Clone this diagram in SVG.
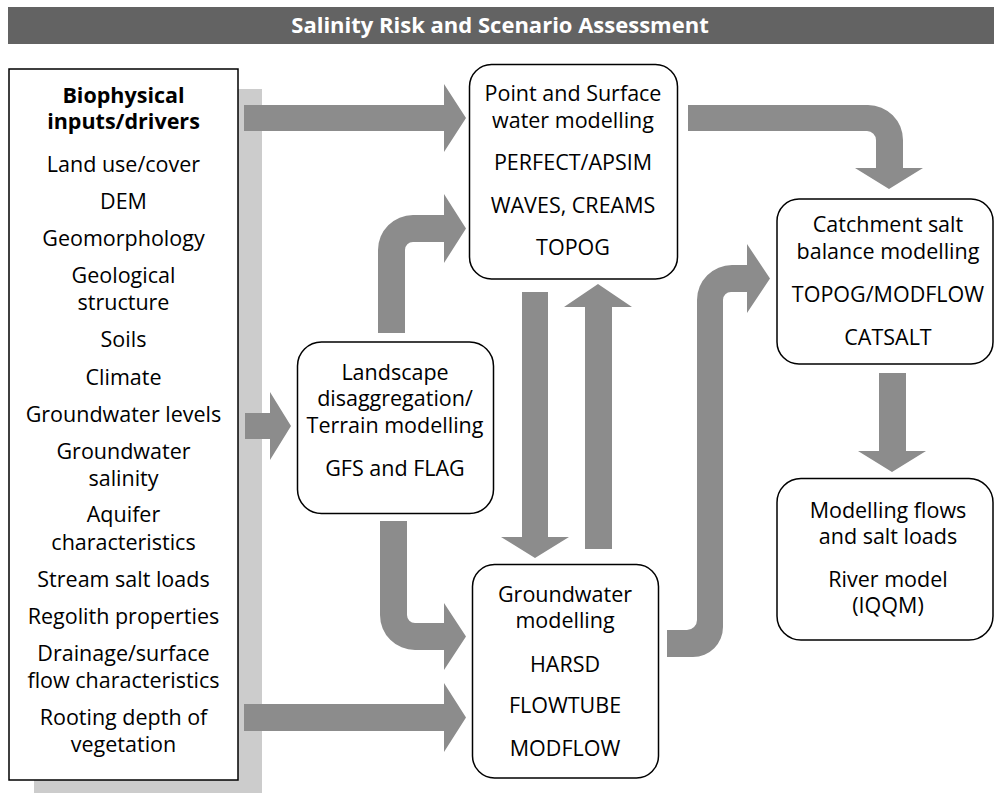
<svg xmlns="http://www.w3.org/2000/svg" width="994" height="793" viewBox="0 0 994 793">
<style>
.t{font-family:"Open Sans","Noto Sans","DejaVu Sans",sans-serif;font-size:21.5px;fill:#000;text-anchor:middle}
.b{font-weight:bold}
.box{fill:#fff;stroke:#000;stroke-width:1.5}
.arr{fill:#8c8c8c}
</style>
<rect width="994" height="793" fill="#fff"/>
<g id="title">
<rect x="8" y="7" width="986" height="37" fill="#636363"/>
<text x="500" y="33" class="t b" style="fill:#fff;font-size:22px">Salinity Risk and Scenario Assessment</text>
</g>
<g id="inputs">
<rect x="34" y="89" width="228" height="710" fill="#cccccc"/>
<rect x="9" y="69" width="229" height="711" class="box"/>
<text class="t b" x="123.5" y="103">Biophysical<tspan x="123.5" y="129">inputs/drivers</tspan></text>
<text class="t" x="123.5" y="172">Land use/cover</text>
<text class="t" x="123.5" y="209">DEM</text>
<text class="t" x="123.5" y="246">Geomorphology</text>
<text class="t" x="123.5" y="283">Geological<tspan x="123.5" y="310">structure</tspan></text>
<text class="t" x="123.5" y="347">Soils</text>
<text class="t" x="123.5" y="385">Climate</text>
<text class="t" x="123.5" y="422">Groundwater levels</text>
<text class="t" x="123.5" y="459">Groundwater<tspan x="123.5" y="486">salinity</tspan></text>
<text class="t" x="123.5" y="522">Aquifer<tspan x="123.5" y="550">characteristics</tspan></text>
<text class="t" x="123.5" y="587">Stream salt loads</text>
<text class="t" x="123.5" y="624">Regolith properties</text>
<text class="t" x="123.5" y="661">Drainage/surface<tspan x="123.5" y="688">flow characteristics</tspan></text>
<text class="t" x="123.5" y="725">Rooting depth of<tspan x="123.5" y="752">vegetation</tspan></text>
</g>
<g id="connectors">
<path class="arr" d="M244,105 H444 V84 L466,118 L444,152 V131 H244 Z"/>
<path class="arr" d="M245,413 H270 V392 L291,426 L270,460 V439 H245 Z"/>
<path class="arr" d="M244,704 H444 V683 L466,717.5 L444,752 V731 H244 Z"/>
<path class="arr" d="M378,333 V250 A35,35 0 0 1 413,215 H444 V194 L466,228.5 L444,263 V242 H413 A8,8 0 0 0 405,250 V333 Z"/>
<path class="arr" d="M380,521 H407 V615 A8,8 0 0 0 415,623 H444 V603 L466,636.5 L444,670 V650 H415 A35,35 0 0 1 380,615 Z"/>
<path class="arr" d="M522,292 H548 V537 H569 L535,558 L501,537 H522 Z"/>
<path class="arr" d="M585,549 V307 H564 L598,284 L632,307 H612 V549 Z"/>
<path class="arr" d="M688,105 H868 A35,35 0 0 1 903,140 V168 H923 L889,189 L855,168 H876 V140 A9,9 0 0 0 867,131 H688 Z"/>
<path class="arr" d="M667,630 H687 A10,10 0 0 0 697,620 V300 A35,35 0 0 1 732,265 H747 V244 L770,278.5 L747,313 V292 H731 A8,8 0 0 0 723,300 V627 A30,30 0 0 1 693,657 H667 Z"/>
<path class="arr" d="M879,373 H906 V451 H926 L892,472 L858,451 H879 Z"/>
</g>
<g id="point">
<rect x="469.5" y="64.5" width="208" height="214.5" rx="22" class="box"/>
<text class="t" x="573" y="101">Point and Surface<tspan x="573" y="128">water modelling</tspan></text>
<text class="t" x="573" y="170">PERFECT/APSIM</text>
<text class="t" x="573" y="213">WAVES, CREAMS</text>
<text class="t" x="573" y="255">TOPOG</text>
</g>
<g id="landscape">
<rect x="297.5" y="342" width="196" height="171.5" rx="24" class="box"/>
<text class="t" x="395" y="380">Landscape<tspan x="395" y="406">disaggregation/</tspan><tspan x="395" y="433">Terrain modelling</tspan></text>
<text class="t" x="395" y="476">GFS and FLAG</text>
</g>
<g id="groundwater">
<rect x="472.5" y="564.5" width="186" height="213.5" rx="22" class="box"/>
<text class="t" x="565" y="602">Groundwater<tspan x="565" y="628">modelling</tspan></text>
<text class="t" x="565" y="672">HARSD</text>
<text class="t" x="565" y="713">FLOWTUBE</text>
<text class="t" x="565" y="756">MODFLOW</text>
</g>
<g id="catchment">
<rect x="777" y="199" width="216" height="165" rx="22" class="box"/>
<text class="t" x="888" y="232">Catchment salt<tspan x="888" y="259">balance modelling</tspan></text>
<text class="t" x="888" y="302">TOPOG/MODFLOW</text>
<text class="t" x="888" y="345">CATSALT</text>
</g>
<g id="riverflows">
<rect x="777" y="478.5" width="216" height="161.5" rx="24" class="box"/>
<text class="t" x="888" y="518">Modelling flows<tspan x="888" y="544">and salt loads</tspan></text>
<text class="t" x="888" y="587">River model<tspan x="888" y="613">(IQQM)</tspan></text>
</g>
</svg>
